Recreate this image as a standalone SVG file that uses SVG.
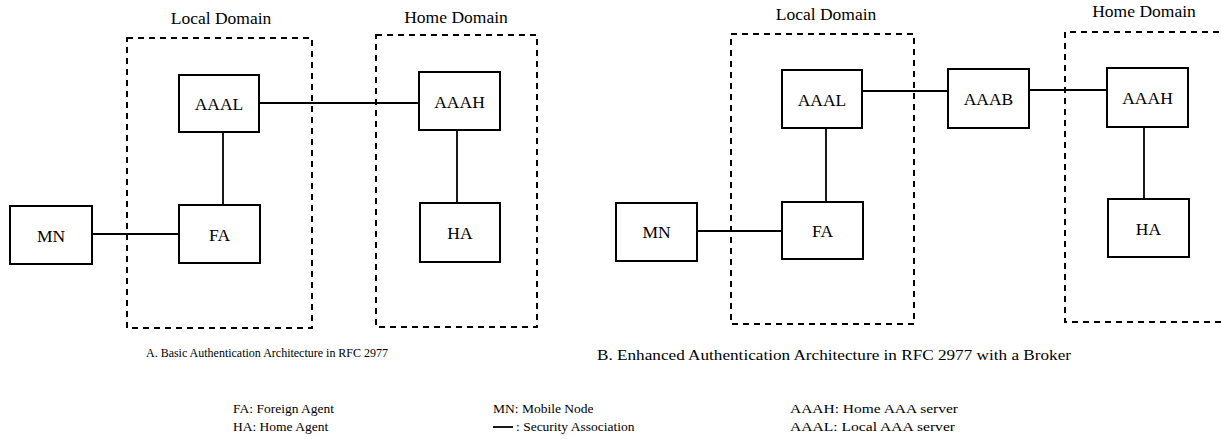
<svg xmlns="http://www.w3.org/2000/svg" width="1221" height="439" viewBox="0 0 1221 439">
<style>
  .bg{fill:#fff}
  .node{fill:#fff;stroke:#000;stroke-width:2}
  .dom{fill:none;stroke:#000;stroke-width:2;stroke-dasharray:6 5}
  .conn{stroke:#000;stroke-width:1.8;fill:none}
  .lbl{font-family:"Liberation Serif","Times New Roman",serif;font-size:17.5px;text-anchor:middle;fill:#000}
  .dlbl{font-family:"Liberation Serif","Times New Roman",serif;font-size:17.5px;text-anchor:middle;fill:#000}
  .cap{font-family:"Liberation Serif","Times New Roman",serif;font-size:13.5px;fill:#000}
</style>
<rect class="bg" x="0" y="0" width="1221" height="439"/>

<!-- Diagram A -->
<g id="A-local-domain">
  <rect class="dom" x="127" y="38" width="185" height="290"/>
  <text class="dlbl" x="221" y="24">Local Domain</text>
</g>
<g id="A-home-domain">
  <rect class="dom" x="376" y="35" width="161" height="292"/>
  <text class="dlbl" x="456" y="23">Home Domain</text>
</g>
<g id="A-connectors">
  <line class="conn" x1="259" y1="103" x2="419" y2="103"/>
  <line class="conn" x1="223" y1="132" x2="223" y2="205"/>
  <line class="conn" x1="457" y1="130" x2="457" y2="203"/>
  <line class="conn" x1="92" y1="234" x2="179" y2="234"/>
</g>
<g id="A-AAAL"><rect class="node" x="179" y="75" width="80" height="57"/><text class="lbl" x="219" y="110">AAAL</text></g>
<g id="A-AAAH"><rect class="node" x="419" y="72" width="81" height="58"/><text class="lbl" x="459.5" y="108">AAAH</text></g>
<g id="A-FA"><rect class="node" x="179" y="205" width="81" height="58"/><text class="lbl" x="219.5" y="241">FA</text></g>
<g id="A-HA"><rect class="node" x="420" y="203" width="80" height="59"/><text class="lbl" x="460" y="239">HA</text></g>
<g id="A-MN"><rect class="node" x="10" y="206" width="82" height="58"/><text class="lbl" x="51" y="242">MN</text></g>

<!-- Diagram B -->
<g id="B-local-domain">
  <rect class="dom" x="731" y="34" width="183" height="290"/>
  <text class="dlbl" x="826" y="20">Local Domain</text>
</g>
<g id="B-home-domain">
  <path class="dom" d="M1230,32 H1065 V322 H1230"/>
  <text class="dlbl" x="1144" y="17">Home Domain</text>
</g>
<g id="B-connectors">
  <line class="conn" x1="862" y1="91" x2="948" y2="91"/>
  <line class="conn" x1="1029" y1="90" x2="1107" y2="90"/>
  <line class="conn" x1="826" y1="128" x2="826" y2="202"/>
  <line class="conn" x1="1144" y1="127" x2="1144" y2="199"/>
  <line class="conn" x1="697" y1="231" x2="782" y2="231"/>
</g>
<g id="B-AAAL"><rect class="node" x="782" y="70" width="80" height="58"/><text class="lbl" x="822" y="106">AAAL</text></g>
<g id="B-AAAB"><rect class="node" x="948" y="69" width="81" height="59"/><text class="lbl" x="988.5" y="105">AAAB</text></g>
<g id="B-AAAH"><rect class="node" x="1107" y="68" width="81" height="59"/><text class="lbl" x="1147.5" y="104">AAAH</text></g>
<g id="B-FA"><rect class="node" x="782" y="202" width="81" height="57"/><text class="lbl" x="822.5" y="237">FA</text></g>
<g id="B-HA"><rect class="node" x="1108" y="199" width="81" height="58"/><text class="lbl" x="1148.5" y="235">HA</text></g>
<g id="B-MN"><rect class="node" x="616" y="203" width="81" height="58"/><text class="lbl" x="656.5" y="238">MN</text></g>

<!-- Captions -->
<text class="cap" x="146" y="357" textLength="242" lengthAdjust="spacingAndGlyphs">A. Basic Authentication Architecture in RFC 2977</text>
<text class="cap" x="597" y="360" style="font-size:15.5px" textLength="474" lengthAdjust="spacingAndGlyphs">B. Enhanced Authentication Architecture in RFC 2977 with a Broker</text>

<!-- Legend -->
<g id="legend">
  <text class="cap" x="233" y="413">FA: Foreign Agent</text>
  <text class="cap" x="233" y="431">HA: Home Agent</text>
  <text class="cap" x="493" y="413">MN: Mobile Node</text>
  <line class="conn" x1="493" y1="427" x2="513" y2="427" stroke-width="1.5"/>
  <text class="cap" x="516" y="431">: Security Association</text>
  <text class="cap" x="790" y="413" textLength="168" lengthAdjust="spacingAndGlyphs">AAAH: Home AAA server</text>
  <text class="cap" x="790" y="431" textLength="165" lengthAdjust="spacingAndGlyphs">AAAL: Local AAA server</text>
</g>
</svg>
